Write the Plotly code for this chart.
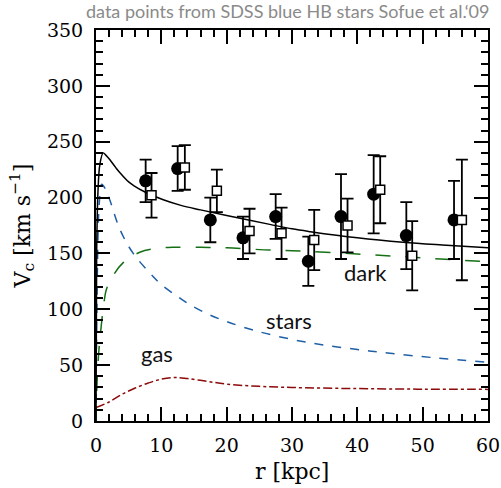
import plotly.graph_objects as go

# ---- data ----
circ_r = [7.6, 12.5, 17.5, 22.5, 27.5, 32.5, 37.5, 42.5, 47.5, 54.8]
circ_v = [215, 226, 180, 164, 183, 143, 183, 203, 166, 180]
circ_e = [19, 20, 20, 19, 20, 22, 38, 35, 30, 35]

sq_r = [8.5, 13.6, 18.5, 23.5, 28.4, 33.4, 38.5, 43.5, 48.4, 56.0]
sq_v = [202, 227, 206, 170, 168, 162, 175, 207, 148, 180]
sq_e = [20, 20, 19, 20, 23, 27, 24, 30, 31, 54]

tot_r = [0.0, 0.1, 0.3, 0.6, 1.1, 1.5, 2.1, 3.0, 3.7, 5.0, 5.7, 7.5, 10.3, 13.0, 16.0, 20.0, 26.6, 30.0, 32.8, 40.0, 47.0, 53.0, 60.0]
tot_v = [0, 150, 205, 230, 240, 238, 234, 227, 222, 214, 211, 205, 198, 193, 189, 184, 176, 172, 169.5, 164, 160, 157.5, 155]

star_r = [0.0, 0.2, 0.5, 0.87, 1.4, 2.1, 3.7, 5.7, 8.8, 10.0, 12.6, 14.4, 17.0, 20.0, 24.6, 30.0, 34.8, 40.0, 45.0, 52.0, 60.0]
star_v = [0, 130, 195, 212, 208, 198, 171, 150, 129, 122, 111, 104, 96, 89, 80.5, 73, 68, 64, 60.6, 56.5, 52.5]

dark_r = [0.0, 0.1, 0.4, 0.8, 1.2, 1.6, 2.6, 4.2, 6.7, 9.3, 12.0, 16.0, 20.0, 26.6, 30.0, 40.0, 50.0, 60.0]
dark_v = [0, 25, 60, 85, 105, 118, 130, 142, 151, 154.5, 155.5, 155.5, 155, 153, 152.5, 149.5, 146, 142.5]

gas_r = [0, 2, 4, 6, 8, 10, 12, 14, 17, 20, 25, 30, 40, 50, 60]
gas_v = [12, 17, 24, 29.5, 34, 37.5, 39, 38, 35.5, 33, 31, 30, 29, 28.5, 28.3]

labels = ["dark", "stars", "gas"]
label_r = [41.2, 29.5, 9.4]
label_v = [133, 90, 60]

x_range = [0, 60]
y_range = [0, 350]

fig = go.Figure()

fig.add_trace(go.Scatter(x=gas_r, y=gas_v, mode="lines", line=dict(color="#8b0a0a", width=1.5, dash="dashdot", shape="spline")))
fig.add_trace(go.Scatter(x=star_r, y=star_v, mode="lines", line=dict(color="#1f5fa6", width=1.5, dash="dash", shape="spline")))
fig.add_trace(go.Scatter(x=dark_r, y=dark_v, mode="lines", line=dict(color="#157015", width=1.5, dash="longdash", shape="spline")))
fig.add_trace(go.Scatter(x=tot_r, y=tot_v, mode="lines", line=dict(color="black", width=1.5, shape="spline")))

fig.add_trace(go.Scatter(x=circ_r, y=circ_v, mode="markers",
                         marker=dict(symbol="circle", size=13, color="black"),
                         error_y=dict(type="data", array=circ_e, color="black", thickness=1.8, width=6)))
fig.add_trace(go.Scatter(x=sq_r, y=sq_v, mode="markers",
                         marker=dict(symbol="square", size=9, color="white", line=dict(color="black", width=1.5)),
                         error_y=dict(type="data", array=sq_e, color="black", thickness=1.8, width=6)))

# invisible trace to host the mirrored (top/right) axes
fig.add_trace(go.Scatter(x=[None], y=[None], xaxis="x2", yaxis="y2", showlegend=False, hoverinfo="skip"))

for t, rx, vy in zip(labels, label_r, label_v):
    fig.add_annotation(x=rx, y=vy, text=t, showarrow=False,
                       font=dict(family="Lato", size=22, color="#111111"))

fig.add_annotation(xref="paper", yref="paper", x=0.49, y=1.0486,
                   text="data points from SDSS blue HB stars Sofue et al.\u201809",
                   showarrow=False, font=dict(family="Lato", size=18, color="#8a8a8a"), yanchor="middle")

# axis titles as annotations for exact placement
fig.add_annotation(xref="paper", yref="paper", x=0.5, y=-0.1304, text="r [kpc]", showarrow=False,
                   xanchor="center", yanchor="middle", font=dict(family="DejaVu Serif", size=22, color="black"))
fig.add_annotation(xref="paper", yref="paper", x=-0.189, y=0.5, text="V<sub>c</sub> [km s<sup>\u22121</sup>]",
                   showarrow=False, textangle=-90, xanchor="center", yanchor="middle",
                   font=dict(family="DejaVu Serif", size=22, color="black"))

tickfont = dict(family="DejaVu Serif", size=19, color="black")
common = dict(ticks="inside", ticklen=14, tickwidth=1.5, tickcolor="black",
              showline=True, linewidth=2, linecolor="black", showgrid=False, zeroline=False, automargin=False)

fig.update_layout(
    width=501, height=488, margin=dict(l=96, r=13, t=30, b=67, pad=0),
    plot_bgcolor="white", paper_bgcolor="white", showlegend=False,
    xaxis=dict(range=x_range, dtick=10, tickfont=tickfont, ticklabelstandoff=6, mirror=True,
               minor=dict(dtick=2, ticks="inside", ticklen=7, tickwidth=1.5, tickcolor="black", showgrid=False),
               **common),
    yaxis=dict(range=y_range, dtick=50, tickfont=tickfont, ticklabelstandoff=7, mirror=True,
               minor=dict(dtick=10, ticks="inside", ticklen=7, tickwidth=1.5, tickcolor="black", showgrid=False),
               **common),
    xaxis2=dict(range=x_range, dtick=10, overlaying="x", side="top", showticklabels=False,
                minor=dict(dtick=2, ticks="inside", ticklen=7, tickwidth=1.5, tickcolor="black", showgrid=False),
                **common),
    yaxis2=dict(range=y_range, dtick=50, overlaying="y", side="right", showticklabels=False,
                minor=dict(dtick=10, ticks="inside", ticklen=7, tickwidth=1.5, tickcolor="black", showgrid=False),
                **common),
)

# remove the default 8px page margin so the 501x488 figure fills the window exactly
fig.write_html("out.html", config={"displayModeBar": False},
               post_script="document.body.style.margin='0';document.body.style.overflow='hidden';")
